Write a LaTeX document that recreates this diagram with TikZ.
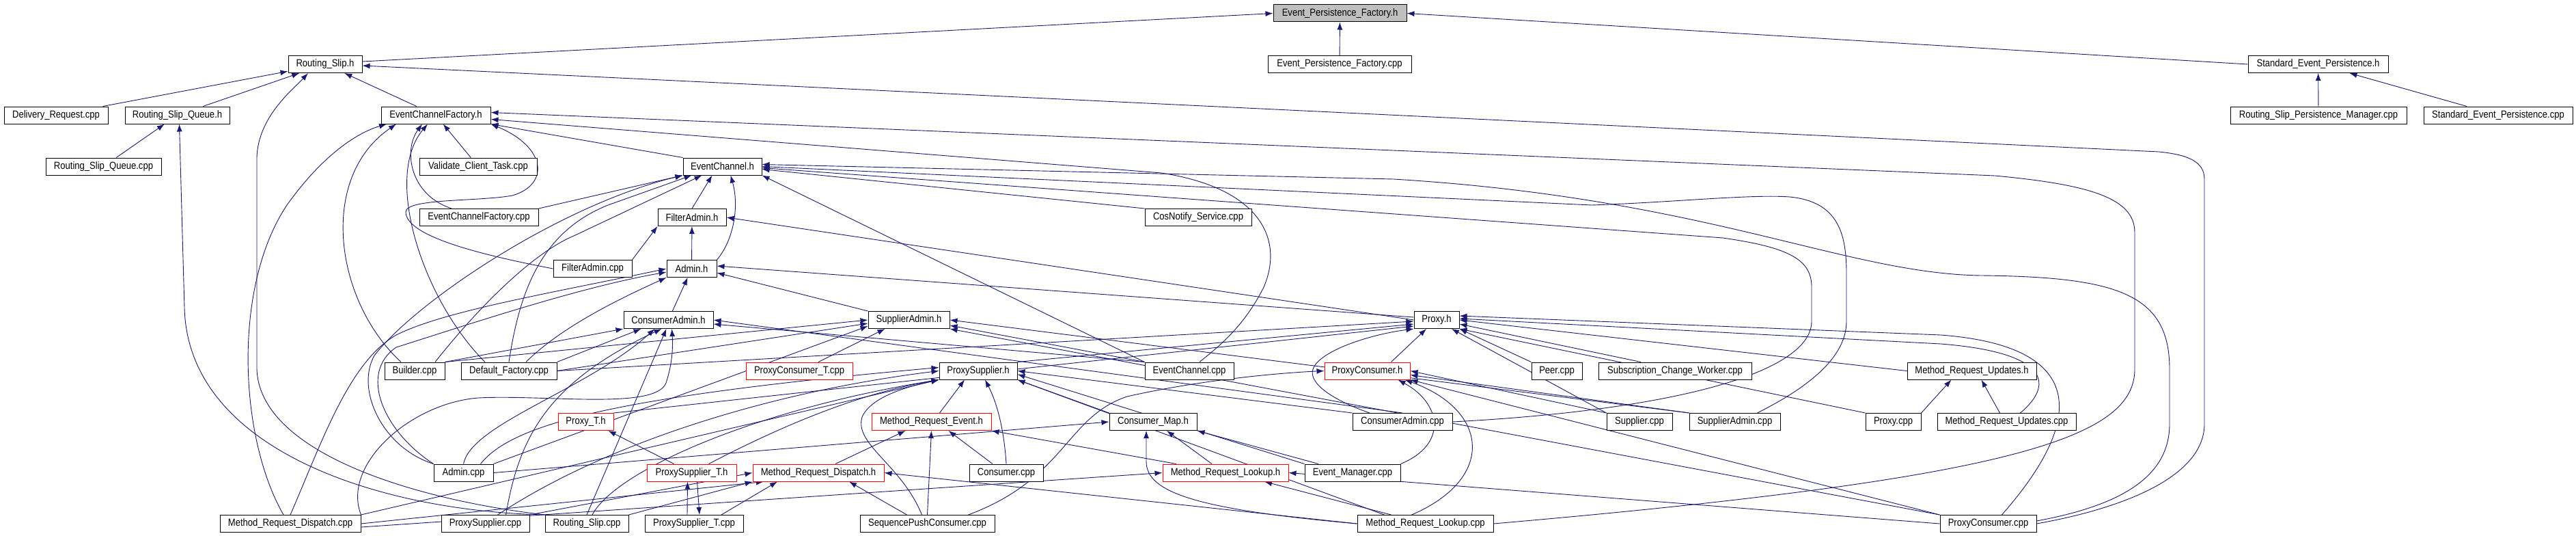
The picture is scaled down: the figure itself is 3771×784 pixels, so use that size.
\documentclass[tikz,border=0pt]{standalone}
\usepackage{fontspec}
\setmainfont[FakeStretch=0.87]{Liberation Sans}
\usetikzlibrary{arrows.meta}
\pgfdeclarelayer{back}
\pgfdeclarelayer{bg}
\pgfsetlayers{back,bg,main}
\definecolor{edgec}{HTML}{191970}
\definecolor{rootc}{HTML}{BFBFBF}
\tikzset{
  nb/.style={draw=black, fill=white, line width=1pt, minimum height=25pt, inner sep=0pt, font=\fontsize{15}{18}\selectfont},
  nr/.style={nb, draw=red},
  e/.style={draw=edgec, line width=0.9pt, -{Latex[length=11pt,width=8pt]}},
  re/.style={draw=edgec, line width=0.9pt, {Latex[length=11pt,width=8pt]}-},
}
\begin{document}
\begin{tikzpicture}[x=1pt,y=-1pt]
\begin{pgfonlayer}{back}
\fill[white] (0,0) rectangle (3771,784);
\end{pgfonlayer}
\useasboundingbox (0,0) rectangle (3771,784);
% row 0
\node[nb, fill=rootc, minimum width=195pt] (epfh) at (1961.5,19.5) {Event\_Persistence\_Factory.h};
% row 1
\node[nb, minimum width=108pt] (rsh) at (476,94) {Routing\_Slip.h};
\node[nb, minimum width=210pt] (epfcpp) at (1961,94) {Event\_Persistence\_Factory.cpp};
\node[nb, minimum width=205pt] (seph) at (3393.5,94) {Standard\_Event\_Persistence.h};
% row 2
\node[nb, minimum width=152pt] (drcpp) at (82,168.5) {Delivery\_Request.cpp};
\node[nb, minimum width=153pt] (rsqh) at (259.5,168.5) {Routing\_Slip\_Queue.h};
\node[nb, minimum width=160pt] (ecfh) at (638,168.5) {EventChannelFactory.h};
\node[nb, minimum width=258pt] (rspmcpp) at (3394,168.5) {Routing\_Slip\_Persistence\_Manager.cpp};
\node[nb, minimum width=218pt] (sepcpp) at (3657,168.5) {Standard\_Event\_Persistence.cpp};
% row 3
\node[nb, minimum width=169pt] (rsqcpp) at (151.5,243.5) {Routing\_Slip\_Queue.cpp};
\node[nb, minimum width=172pt] (vctcpp) at (700,243.5) {Validate\_Client\_Task.cpp};
\node[nb, minimum width=115pt] (ech) at (1057.5,243.5) {EventChannel.h};
% row 4
\node[nb, minimum width=174pt] (ecfcpp) at (701,318) {EventChannelFactory.cpp};
\node[nb, minimum width=100pt] (fah) at (1013,318) {FilterAdmin.h};
\node[nb, minimum width=156pt] (cnscpp) at (1754,318) {CosNotify\_Service.cpp};
% row 5
\node[nb, minimum width=115pt] (facpp) at (867.5,393) {FilterAdmin.cpp};
\node[nb, minimum width=73pt] (adh) at (1012.5,393) {Admin.h};
% row 6
\node[nb, minimum width=131pt] (cah) at (978.5,468) {ConsumerAdmin.h};
\node[nb, minimum width=119pt] (sah) at (1330.5,468) {SupplierAdmin.h};
\node[nb, minimum width=66pt] (pxh) at (2103,468) {Proxy.h};
% row 7
\node[nb, minimum width=88pt] (bcpp) at (607,542.5) {Builder.cpp};
\node[nb, minimum width=140pt] (dfcpp) at (745,542.5) {Default\_Factory.cpp};
\node[nr, minimum width=156pt] (pcTcpp) at (1170,542.5) {ProxyConsumer\_T.cpp};
\node[nb, minimum width=114pt] (psh) at (1432,542.5) {ProxySupplier.h};
\node[nb, minimum width=130pt] (eccpp) at (1741,542.5) {EventChannel.cpp};
\node[nr, minimum width=125pt] (pch) at (2001.5,542.5) {ProxyConsumer.h};
\node[nb, minimum width=74pt] (pecpp) at (2279,542.5) {Peer.cpp};
\node[nb, minimum width=224pt] (scwcpp) at (2452,542.5) {Subscription\_Change\_Worker.cpp};
\node[nb, minimum width=189pt] (mruh) at (2886.5,542.5) {Method\_Request\_Updates.h};
% row 8
\node[nr, minimum width=81pt] (pTh) at (857.5,617) {Proxy\_T.h};
\node[nr, minimum width=175pt] (mreh) at (1363.5,617) {Method\_Request\_Event.h};
\node[nb, minimum width=128pt] (cmh) at (1688,617) {Consumer\_Map.h};
\node[nb, minimum width=146pt] (cacpp) at (2053,617) {ConsumerAdmin.cpp};
\node[nb, minimum width=96pt] (supcpp) at (2400,617) {Supplier.cpp};
\node[nb, minimum width=133pt] (sacpp) at (2539.5,617) {SupplierAdmin.cpp};
\node[nb, minimum width=81pt] (pxcpp) at (2771.5,617) {Proxy.cpp};
\node[nb, minimum width=203pt] (mrucpp) at (2937.5,617) {Method\_Request\_Updates.cpp};
% row 9
\node[nb, minimum width=87pt] (adcpp) at (678.5,691.5) {Admin.cpp};
\node[nr, minimum width=131pt] (psTh) at (1012.5,691.5) {ProxySupplier\_T.h};
\node[nr, minimum width=192pt] (mrdh) at (1198,691.5) {Method\_Request\_Dispatch.h};
\node[nb, minimum width=108pt] (concpp) at (1473,691.5) {Consumer.cpp};
\node[nr, minimum width=184pt] (mrlh) at (1794,691.5) {Method\_Request\_Lookup.h};
\node[nb, minimum width=140pt] (emcpp) at (1980,691.5) {Event\_Manager.cpp};
% row 10
\node[nb, minimum width=206pt] (mrdcpp) at (425,766) {Method\_Request\_Dispatch.cpp};
\node[nb, minimum width=129pt] (pscpp) at (710.5,766) {ProxySupplier.cpp};
\node[nb, minimum width=122pt] (rscpp) at (859,766) {Routing\_Slip.cpp};
\node[nb, minimum width=144pt] (psTcpp) at (1016,766) {ProxySupplier\_T.cpp};
\node[nb, minimum width=197pt] (spccpp) at (1357.5,766) {SequencePushConsumer.cpp};
\node[nb, minimum width=199pt] (mrlcpp) at (2086.5,766) {Method\_Request\_Lookup.cpp};
\node[nb, minimum width=141pt] (pccpp) at (2910.5,766) {ProxyConsumer.cpp};

\begin{pgfonlayer}{bg}
% top
\draw[e] ([yshift=4]rsh.east) -- (epfh.west);
\draw[e] (epfcpp) -- (epfh);
\draw[e] (seph.west) -- (epfh.east);
\draw[e] (rspmcpp) -- (seph);
\draw[e] (sepcpp) -- (seph);
\draw[e] (drcpp) -- (rsh);
\draw[e] (rsqh) -- (rsh);
\draw[e] (ecfh) -- (rsh);
\draw[e] (rsqcpp) -- (rsqh);
\draw[e] (rscpp.north west) .. controls (600,730) and (380,660) .. (376,540) -- (376,230) .. controls (378,170) and (430,130) .. ([xshift=-25]rsh.south);
\draw[e] (rscpp.north west) .. controls (560,748) and (275,660) .. (270,450) -- ([xshift=3]rsqh.south);
\draw[re] ([yshift=-2]rsh.east) -- (3160,222) .. controls (3200,226) and (3227,235) .. (3227,262) -- (3227,620) .. controls (3227,700) and (3100,745) .. (pccpp.east);
% EventChannelFactory.h
\draw[e] (vctcpp) -- (ecfh);
\draw[e] ([xshift=-40]ecfcpp.north) .. controls (600,285) and (590,220) .. ([xshift=-20]ecfh.south);
\draw[e] (ech.north west) -- (ecfh.south east);
\draw[re] (ecfh.south east) .. controls (800,215) and (805,270) .. (750,286) .. controls (700,295) and (594,290) .. (594,310) .. controls (594,345) and (700,372) .. (facpp.west);
\draw[e] ([xshift=-20]bcpp.north) .. controls (490,440) and (465,260) .. ([xshift=-58]ecfh.south);
\draw[e] ([xshift=-10]mrdcpp.north) .. controls (350,640) and (340,420) .. (420,300) .. controls (470,230) and (520,195) .. ([xshift=-72]ecfh.south);
\draw[e] ([xshift=-35]dfcpp.north) .. controls (620,440) and (560,260) .. ([xshift=-12]ecfh.south);
\draw[re] ([yshift=-6]ecfh.east) -- (1700,253) .. controls (1845,275) and (1880,350) .. (1850,420) .. controls (1820,480) and (1780,510) .. ([xshift=15]eccpp.north);
\draw[re] ([yshift=4]ecfh.east) -- (2920,257) .. controls (3060,270) and (3125,290) .. (3125,340) -- (3125,540) .. controls (3125,640) and (2950,700) .. (mrlcpp.east);
% EventChannel.h
\draw[e] (fah.north) -- ([xshift=-15]ech.south);
\draw[e] (adh.north east) .. controls (1075,350) and (1082,300) .. ([xshift=12]ech.south);
\draw[e] (ecfcpp.north east) -- (ech.south west);
\draw[e] (adcpp.north west) .. controls (560,655) and (520,570) .. (548,520) .. controls (610,440) and (820,300) .. (ech.south west);
\draw[e] (dfcpp.north) .. controls (760,430) and (790,340) .. (890,300) -- ([xshift=-45]ech.south);
\draw[e] ([xshift=30]bcpp.north) .. controls (700,450) and (780,370) .. (840,345) -- ([xshift=-30]ech.south);
\draw[e] (eccpp.north west) -- (ech.south east);
\draw[e] (cnscpp.north west) -- ([yshift=-4]ech.east);
\draw[re] ([yshift=-2]ech.east) -- (2522,348) .. controls (2620,362) and (2652,380) .. (2652,420) -- (2652,470) .. controls (2652,545) and (2450,600) .. (cacpp.east);
\draw[re] (ech.east) -- (2330,300) .. controls (2450,296) and (2560,284) .. (2620,288) .. controls (2690,295) and (2703,340) .. (2703,400) -- (2703,470) .. controls (2703,530) and (2630,575) .. ([xshift=33]sacpp.north);
\draw[re] ([yshift=3]ech.east) -- (2040,262) .. controls (2500,290) and (2700,400) .. (2900,403) .. controls (3100,405) and (3176,430) .. (3176,540) -- (3176,620) .. controls (3176,700) and (3100,740) .. ([yshift=4]pccpp.east);
% FilterAdmin.h
\draw[e] (adh) -- (fah);
\draw[e] (facpp.north east) -- (fah.south west);
\draw[e] (pxh.west) -- (fah.east);
% Admin.h
\draw[e] (cah) -- (adh);
\draw[e] (sah.north west) -- ([yshift=-6]adh.east);
\draw[re] ([yshift=4]adh.east) -- ([yshift=4]pxh.west);
\draw[e] (mrdcpp.north) .. controls (470,650) and (510,530) .. (580,490) .. controls (650,455) and (800,430) .. (adh.west);
\draw[e] (adcpp.north west) .. controls (560,630) and (525,545) .. (580,508) .. controls (700,470) and (850,420) .. ([yshift=-5]adh.west);
\draw[e] ([xshift=25]dfcpp.north) .. controls (820,480) and (900,440) .. (adh.south west);
% ConsumerAdmin.h
\draw[e] (bcpp.north east) -- (cah.south west);
\draw[e] (dfcpp.north east) -- ([xshift=-40]cah.south);
\draw[e] (adcpp.north) .. controls (690,620) and (860,570) .. ([xshift=-20]cah.south);
\draw[e] (mrdcpp.north east) .. controls (500,680) and (600,590) .. (700,582) .. controls (800,577) and (960,600) .. (975,560) .. controls (985,530) and (985,505) .. ([xshift=5]cah.south);
\draw[e] ([xshift=30]pscpp.north) .. controls (760,640) and (800,560) .. ([xshift=-10]cah.south);
\draw[e] (rscpp.north) -- ([xshift=-3]cah.south);
\draw[e] (cacpp.north) -- (cah.east);
\draw[e] (eccpp.north west) -- ([yshift=-6]cah.east);
% SupplierAdmin.h
\draw[e] ([xshift=28]pcTcpp.north) -- ([xshift=-35]sah.south);
\draw[e] (dfcpp.east) -- ([yshift=-5]sah.west);
\draw[e] (bcpp.north east) -- (sah.west);
\draw[e] (adcpp.north east) -- ([yshift=-9]sah.west);
\draw[e] (sacpp.north west) -- (sah.east);
\draw[e] (eccpp.north west) -- ([yshift=-8]sah.east);
\draw[e] (pccpp.north west) -- (sah.south east);
% Proxy.h
\draw[e] (psh.north east) -- ([yshift=-6]pxh.west);
\draw[e] ([xshift=35]pch.north) -- ([xshift=-15]pxh.south);
\draw[e] (supcpp.north west) -- ([xshift=22]pxh.south);
\draw[e] (pecpp.north west) -- (pxh.south east);
\draw[e] ([xshift=-50]scwcpp.north) -- ([yshift=-6]pxh.east);
\draw[e] (mruh.west) -- (pxh.east);
\draw[re] ([yshift=2]pxh.east) -- (2841,503) .. controls (2995,515) and (3010,560) .. ([xshift=20]mrucpp.north);
\draw[re] ([yshift=6]pxh.east) -- (2841,490) .. controls (3040,505) and (3065,600) .. ([xshift=20]pccpp.north);
\draw[e] (pxcpp.north west) -- (pxh.south east);
\draw[e] (dfcpp.east) -- ([yshift=-2]pxh.west);
\draw[e] (pTh.north east) -- ([yshift=-9]pxh.west);
\draw[e] ([xshift=-48]cacpp.north) .. controls (1950,585) and (1915,560) .. (1922,540) .. controls (1930,515) and (2000,490) .. (pxh.south west);
% ProxySupplier.h
\draw[e] (concpp.north) .. controls (1470,630) and (1460,590) .. ([xshift=10]psh.south);
\draw[e] ([xshift=12]mreh.north) -- ([xshift=-20]psh.south);
\draw[e] (cmh.north west) -- (psh.south east);
\draw[e] ([xshift=25]psTh.north) .. controls (1150,620) and (1260,575) .. (psh.south west);
\draw[e] ([xshift=18]pscpp.north) .. controls (900,640) and (1150,570) .. (psh.west);
\draw[e] ([xshift=8]rscpp.north) .. controls (900,690) and (1100,600) .. (psh.south west);
\draw[e] ([xshift=-8]spccpp.north) .. controls (1320,680) and (1250,650) .. (1262,610) .. controls (1275,580) and (1330,565) .. (psh.south west);
\draw[e] (cacpp.north west) -- (psh.east);
\draw[e] (emcpp.north west) -- ([yshift=-5]psh.east);
\draw[e] ([xshift=-60]mrlcpp.north) -- (psh.south east);
\draw[e] (mrdcpp.north east) -- (psh.south west);
\draw[e] ([xshift=25]adcpp.north) .. controls (750,620) and (900,580) .. ([yshift=5]psh.west);
% ProxyConsumer.h
\draw[e] ([xshift=60]spccpp.north) .. controls (1560,700) and (1560,610) .. (1650,580) .. controls (1760,555) and (1880,545) .. (pch.west);
\draw[e] (supcpp.north west) -- (pch.east);
\draw[e] (sacpp.north west) -- ([yshift=-6]pch.east);
\draw[e] (pccpp.north west) -- (pch.south east);
\draw[e] (emcpp.north east) .. controls (2120,650) and (2110,590) .. ([xshift=45]pch.south);
\draw[e] ([xshift=-20]mrlcpp.north) .. controls (2190,700) and (2180,600) .. ([xshift=55]pch.south);
% Method_Request_Updates.h
\draw[e] (pxcpp.north east) -- ([xshift=-30]mruh.south);
\draw[e] ([xshift=-10]mrucpp.north) -- ([xshift=14]mruh.south);
% Proxy_T.h, ProxySupplier_T.h
\draw[e] ([xshift=-26]psTh.north) -- ([xshift=33]pTh.south);
\draw[e] ([xshift=-10]psTcpp.north) -- ([xshift=-6]psTh.south);
\draw[e] ([xshift=8]psTh.south) -- ([xshift=8]psTcpp.north);
% Method_Request_Event.h
\draw[e] ([xshift=25]mrdh.north) -- ([xshift=-38]mreh.south);
\draw[e] (spccpp.north) -- (mreh.south);
\draw[e] ([xshift=-20]concpp.north) -- ([xshift=25]mreh.south);
\draw[e] ([xshift=-72]mrlh.north) -- (mreh.south east);
% Consumer_Map.h
\draw[e] (adcpp.east) -- (cmh.west);
\draw[e] ([xshift=-20]mrlh.north) -- ([xshift=20]cmh.south);
\draw[e] ([xshift=-50]emcpp.north) -- (cmh.south east);
\draw[e] (mrlcpp.west) .. controls (1750,745) and (1678,720) .. (1678,675) -- ([xshift=-10]cmh.south);
% Method_Request_Dispatch.h
\draw[e] (pscpp.north east) -- (mrdh.west);
\draw[e] ([xshift=40]psTcpp.north) -- ([xshift=-60]mrdh.south);
\draw[e] ([xshift=-30]spccpp.north) -- ([xshift=45]mrdh.south);
\draw[e] (mrlcpp.west) -- (mrdh.east);
\draw[e] (rscpp.north east) -- (mrdh.south west);
\draw[e] (mrdcpp.east) -- ([xshift=-80]mrdh.south);
% Method_Request_Lookup.h
\draw[e] ([xshift=-50]mrlcpp.north) -- ([xshift=57]mrlh.south);
\draw[e] (pccpp.west) -- (mrlh.east);
\draw[e] ([yshift=-5]mrdcpp.east) -- (mrlh.west);
\end{pgfonlayer}
\end{tikzpicture}
\end{document}
